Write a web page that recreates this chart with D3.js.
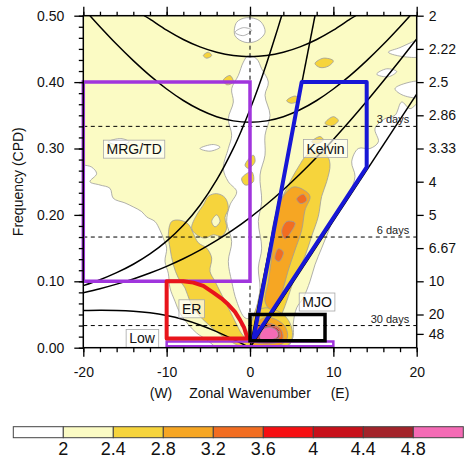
<!DOCTYPE html>
<html><head><meta charset="utf-8">
<script src="https://cdn.jsdelivr.net/npm/d3@7"></script>
<style>
body{margin:0;background:#fff;}
svg{display:block;font-family:"Liberation Sans",Arial,Helvetica,sans-serif;}
</style>
</head><body><svg id="c" width="467" height="463"></svg>
<script>
// ---------------- data ----------------
const xTicksMajor = [-20,-10,0,10,20];
const yTicksMajor = [0,0.1,0.2,0.3,0.4,0.5];
const periodFreqs = [0.5,0.45,0.4,0.35,0.3,0.25,0.2,0.15,0.1,0.05,0.0208];
const periodLabels = ["2","2.22","2.5","2.86","3.33","4","5","6.67","10","20","48"];
const periodLines = [3,6,30];
const periodLineLabels = ["3 days","6 days","30 days"];
const levels = [2,2.4,2.8,3.2,3.6,4,4.4,4.8];
const levelColors = ["#ffffff","#fbfbc4","#f6d43c","#f6a623","#f26d21","#f60f12","#c8101a","#a3232a","#f46bb5"];

// dispersion curves (wavenumber, frequency cpd)
const kelvinH8 = [[0,0],[20,0.382]];
const kelvinH90 = [[0,0],[7.8,0.5]];
const ig1H8 = [[-19.2,0.5],[-18,0.4834],[-16,0.4569],[-14,0.4323],[-12,0.4097],[-10,0.3896],[-8,0.3723],[-6,0.3583],[-4,0.3479],[-2,0.3416],[0,0.3395],[2,0.3416],[4,0.3479],[6,0.3583],[8,0.3723],[10,0.3896],[12,0.4097],[14,0.4323],[16,0.4569],[18,0.4834],[19.2,0.5]];
const ig2H8 = [[-12.7,0.5],[-12,0.4947],[-10,0.4782],[-8,0.4642],[-6,0.453],[-4,0.4449],[-2,0.4399],[0,0.4383],[2,0.4399],[4,0.4449],[6,0.453],[8,0.4642],[10,0.4782],[12,0.4947],[12.7,0.5]];
const mrgH8 = [[-20,0.0826],[-18,0.0888],[-16,0.0957],[-14,0.1035],[-12,0.1124],[-10,0.1225],[-8,0.1339],[-6,0.1469],[-4,0.1615],[-2,0.1778],[0,0.196],[2,0.216],[4,0.2379],[6,0.2616],[8,0.2869],[10,0.3137],[12,0.3418],[14,0.3712],[16,0.4016],[18,0.4329],[20,0.465]];
const mrgH90 = [[-20,0.0935],[-18,0.1024],[-16,0.113],[-14,0.1257],[-12,0.1412],[-10,0.1605],[-8,0.1844],[-6,0.2146],[-4,0.2526],[-2,0.3002],[-1,0.328],[0,0.3586],[1,0.3921],[2,0.4284],[3,0.4674],[3.8,0.5]];
const erH8 = [[-20,0.0561],[-18,0.0565],[-16,0.0562],[-14,0.055],[-12,0.0525],[-10,0.0484],[-8,0.0424],[-6,0.0343],[-4,0.0243],[-2,0.0126],[0,0]];

// filter boxes
const boxMRG = [[-20,0.1],[-20,0.4],[0,0.4],[0,0.1]];
const boxLow = [[-10,0.002],[-10,0.0095],[10,0.0095],[10,0.002]];
const boxER = [[-10,0.014],[-10,0.1],[-8,0.1],[-6.8,0.098],[-5.6,0.093],[-4.4,0.083],[-3.4,0.074],[-2.6,0.065],[-1.8,0.054],[-1.2,0.042],[-0.7,0.03],[-0.3,0.014]];
const boxKelvin = [[0.4,0.012],[6.2,0.4],[14,0.4],[14,0.272]];
const boxMJO = [[0,0.0104],[0,0.05],[9,0.05],[9,0.0104]];

const waveLabels = ["MRG/TD","Kelvin","ER","Low","MJO"];
const waveLabelK = [-13.9,9.06,-7.0,-12.96,8.04];
const waveLabelF = [0.299,0.300,0.0586,0.0139,0.0688];

// filled contour regions
const whiteLowLeft = [[-20,0.275],[-19,0.272],[-18.4,0.262],[-19.2,0.25],[-18,0.245],[-16.8,0.24],[-16.4,0.225],[-15,0.218],[-14,0.212],[-13,0.205],[-12.4,0.197],[-11.4,0.19],[-10.8,0.177],[-10.4,0.165],[-10,0.15],[-10.2,0.13],[-9.8,0.112],[-9.6,0.09],[-9,0.07],[-8.4,0.052],[-7.4,0.035],[-6.4,0.022],[-5,0.01],[-3.6,-0.01],[-20.5,-0.01],[-20.5,0.275]];
const whiteValley = [[-0.6,0.045],[-1.6,0.07],[-2.2,0.1],[-2.6,0.13],[-2.2,0.16],[-2.8,0.19],[-2.4,0.215],[-1.6,0.235],[-2.6,0.25],[-3.2,0.27],[-2.6,0.3],[-2.2,0.32],[-2.6,0.345],[-2.0,0.37],[-2.2,0.39],[-1.4,0.41],[-0.8,0.43],[-0.2,0.44],[0.8,0.435],[1.4,0.42],[2.2,0.4],[1.8,0.38],[2.4,0.35],[1.8,0.32],[1.8,0.29],[1.2,0.26],[1.4,0.22],[1.0,0.19],[1.4,0.15],[1.0,0.12],[1.2,0.09],[0.8,0.06],[0.2,0.045]];
const whiteTop = [[-1.6,0.49],[-0.4,0.497],[1.2,0.492],[1.8,0.475],[0.8,0.462],[-0.6,0.46],[-1.8,0.47]];
const whiteRight = [[4.6,-0.01],[5.2,0.018],[5.2,0.037],[5.6,0.06],[6.4,0.075],[7.2,0.1],[7.8,0.125],[8.6,0.15],[9.4,0.175],[10.2,0.2],[11.2,0.215],[12,0.235],[12.6,0.258],[12.2,0.28],[13,0.3],[14.4,0.3],[15.4,0.31],[15,0.33],[16.2,0.345],[17.4,0.35],[18.2,0.37],[19.2,0.36],[20.5,0.37],[20.5,-0.01]];
const whiteP1 = [[16.6,0.445],[18,0.452],[19.4,0.46],[20.5,0.465],[20.5,0.44],[18.6,0.438]];
const whiteP2 = [[17.4,0.39],[18.6,0.398],[20.5,0.4],[20.5,0.378],[18.4,0.38]];
const whiteP3 = [[15.2,0.412],[16.4,0.42],[17.6,0.416],[16.6,0.408]];
const whiteP4 = [[-17,0.31],[-15.5,0.315],[-14.5,0.31],[-15.6,0.305]];
const whiteP5 = [[-6,0.3],[-4.4,0.306],[-3.6,0.302],[-4.8,0.296]];
const whiteP6 = [[-1.8,0.475],[-0.8,0.482],[0.2,0.478],[-0.8,0.47]];

const goldERMain = [[-9.8,0.17],[-9.4,0.19],[-8.4,0.192],[-7.4,0.186],[-6.8,0.172],[-6.2,0.158],[-5.2,0.15],[-4.6,0.135],[-4.8,0.115],[-4.2,0.1],[-3.6,0.085],[-2.8,0.065],[-2,0.045],[-1.2,0.025],[-0.4,0.008],[-1.2,0.003],[-2.4,0.01],[-3.8,0.022],[-5,0.035],[-6.2,0.05],[-7.2,0.07],[-7.8,0.09],[-8.6,0.105],[-9.2,0.125],[-9.6,0.15]];
const goldERUpper = [[-7,0.18],[-6.4,0.2],[-5.6,0.215],[-5.0,0.228],[-4.0,0.232],[-3.0,0.226],[-2.6,0.21],[-3.0,0.196],[-2.8,0.18],[-3.4,0.168],[-4.4,0.17],[-5.4,0.165],[-6.4,0.17]];
const paleHole = [[-4.6,0.19],[-4,0.2],[-3.6,0.19],[-4.2,0.182]];
const goldKelvin = [[0.2,0.027],[0.9,0.067],[1.6,0.107],[2.3,0.147],[2.8,0.187],[3.6,0.218],[4.8,0.25],[5.8,0.272],[6.8,0.29],[8.0,0.296],[9.2,0.29],[9.6,0.276],[9.2,0.25],[8.6,0.228],[8.2,0.198],[7.4,0.168],[6.6,0.138],[5.4,0.107],[4.6,0.077],[3.8,0.05],[2.8,0.025]];
const goldSpots = [
  [[7.8,0.428],[8.8,0.436],[10,0.432],[9.4,0.424],[8.4,0.422]],
  [[4.4,0.372],[5.4,0.379],[6,0.374],[5,0.368]],
  [[9,0.338],[10,0.348],[10.6,0.342],[9.8,0.334]],
  [[7.4,0.31],[8.4,0.318],[8.8,0.313],[8.0,0.307]],
  [[-3.2,0.403],[-2.4,0.41],[-2,0.4],[-2.8,0.396]],
  [[-5.6,0.44],[-5,0.445],[-4.6,0.44],[-5.2,0.436]],
  [[-1.0,0.255],[0.2,0.265],[0.4,0.25],[-0.6,0.245]],
  [[-0.6,0.275],[0.4,0.29],[0.6,0.28],[-0.2,0.27]]
];
const goldMJO = [[-0.8,0.004],[-0.4,0.02],[0.2,0.04],[0.8,0.054],[1.8,0.06],[3,0.057],[4,0.05],[4.8,0.037],[5.1,0.018],[4.6,0.004],[3,0.0],[0,0]];
const orangeKelvin = [[1.8,0.07],[2.2,0.1],[2.5,0.127],[2.8,0.157],[3.2,0.197],[4.0,0.228],[5.2,0.242],[6.4,0.238],[7.2,0.228],[6.6,0.207],[6.2,0.177],[5.4,0.147],[4.6,0.117],[4.0,0.09],[3.2,0.062],[2.4,0.058]];
const orangeMJO = [[0,0.006],[0.4,0.025],[1,0.04],[2,0.046],[3.2,0.042],[4.2,0.032],[4.5,0.016],[3.8,0.005],[2,0.003]];
const darkOrangeSpots = [
  [[3.8,0.175],[4.4,0.19],[5.4,0.188],[4.8,0.172],[4.2,0.164]],
  [[3.0,0.134],[3.4,0.149],[4.0,0.144],[3.5,0.13]],
  [[5.6,0.224],[6.4,0.231],[6.8,0.222],[6.1,0.217]],
  [[0.4,0.01],[0.8,0.03],[1.6,0.037],[2.8,0.035],[3.8,0.026],[3.9,0.012],[3,0.007],[1.6,0.006]]
];
const redMJO = [[0.8,0.012],[1.2,0.03],[2.2,0.033],[3.4,0.028],[3.6,0.016],[2.6,0.01]];
const darkRedMJO = [[1.0,0.013],[1.4,0.029],[2.4,0.031],[3.4,0.025],[3.5,0.016],[2.5,0.011]];
const pinkMJO = [[1.2,0.014],[1.6,0.028],[2.6,0.03],[3.3,0.024],[3.3,0.016],[2.4,0.012]];

const contourLayers = [
  {lvl:0, polys:[whiteLowLeft, whiteValley, whiteTop, whiteRight, whiteP1, whiteP2, whiteP3, whiteP4, whiteP5, whiteP6]},
  {lvl:2, polys:[goldERMain, goldERUpper, goldKelvin, goldMJO].concat(goldSpots)},
  {lvl:1, polys:[paleHole]},
  {lvl:3, polys:[orangeKelvin, orangeMJO]},
  {lvl:4, polys:darkOrangeSpots},
  {lvl:5, polys:[redMJO]},
  {lvl:7, polys:[darkRedMJO]},
  {lvl:8, polys:[pinkMJO]}
];

// ---------------- drawing ----------------
const svg = d3.select("#c");
const L = 83.3, R = 416.7, T = 15.7, B = 347.7;
const x = d3.scaleLinear().domain([-20,20]).range([L,R]);
const y = d3.scaleLinear().domain([0,0.5]).range([B,T]);

svg.append("defs").append("clipPath").attr("id","clip")
  .append("rect").attr("x",L).attr("y",T).attr("width",R-L).attr("height",B-T);

const plot = svg.append("g").attr("clip-path","url(#clip)");
plot.append("rect").attr("x",L).attr("y",T).attr("width",R-L).attr("height",B-T)
  .attr("fill",levelColors[1]);

const polyLine = d3.line().x(d=>x(d[0])).y(d=>y(d[1])).curve(d3.curveCatmullRomClosed.alpha(0.5));
contourLayers.forEach(layer=>{
  plot.append("g").selectAll("path").data(layer.polys).join("path")
    .attr("d",polyLine)
    .attr("fill",levelColors[layer.lvl])
    .attr("stroke","#9c9c9c").attr("stroke-width",0.8);
});

// dashed reference lines
plot.selectAll("line.per").data(periodLines).join("line")
  .attr("x1",L).attr("x2",R).attr("y1",d=>y(1/d)).attr("y2",d=>y(1/d))
  .attr("stroke","#000").attr("stroke-width",1).attr("stroke-dasharray","4,3.5");
plot.append("line").attr("x1",x(0)).attr("x2",x(0)).attr("y1",T).attr("y2",B)
  .attr("stroke","#000").attr("stroke-width",1).attr("stroke-dasharray","4,3.5");

// dispersion curves
const curveLine = d3.line().x(d=>x(d[0])).y(d=>y(d[1])).curve(d3.curveCatmullRom.alpha(0.5));
[kelvinH8,kelvinH90,ig1H8,ig2H8,mrgH8,mrgH90,erH8].forEach(c=>{
  plot.append("path").attr("d",curveLine(c)).attr("fill","none")
    .attr("stroke","#000").attr("stroke-width",1.5);
});

// period text
svg.selectAll("text.per").data(periodLines).join("text")
  .attr("x",x(19.1)).attr("y",d=>y(1/d)-3).attr("text-anchor","end")
  .attr("font-size",11).attr("fill","#222").text((d,i)=>periodLineLabels[i]);

// boxes
const closedLine = d3.line().x(d=>x(d[0])).y(d=>y(d[1])).curve(d3.curveLinearClosed);
svg.append("path").attr("d",closedLine(boxMRG)).attr("fill","none").attr("stroke","#a035dd").attr("stroke-width",3.5);
svg.append("path").attr("d",closedLine(boxLow)).attr("fill","none").attr("stroke","#a035dd").attr("stroke-width",2.5);
svg.append("path").attr("d",closedLine(boxER)).attr("fill","none").attr("stroke","#e8141b").attr("stroke-width",4).attr("stroke-linejoin","round");
svg.append("path").attr("d",closedLine(boxKelvin)).attr("fill","none").attr("stroke","#1717d6").attr("stroke-width",4).attr("stroke-linejoin","round");
svg.append("path").attr("d",closedLine(boxMJO)).attr("fill","none").attr("stroke","#000").attr("stroke-width",3.5);

// wave labels
waveLabels.forEach((t,i)=>{
  const g = svg.append("g");
  const tx = g.append("text").attr("x",x(waveLabelK[i])).attr("y",y(waveLabelF[i]))
    .attr("text-anchor","middle").attr("dominant-baseline","central")
    .attr("font-size",14).attr("fill","#111").text(t);
  const bb = tx.node().getBBox();
  g.insert("rect","text").attr("x",bb.x-3).attr("y",bb.y-1).attr("width",bb.width+6).attr("height",bb.height+2)
    .attr("fill","rgba(255,255,255,0.65)").attr("stroke","#a8a8a8").attr("stroke-width",0.8);
});

// axes
const axG = svg.append("g").attr("font-size",14);
const bottomMajor = d3.axisBottom(x).tickValues(xTicksMajor).tickSize(9).tickPadding(10).tickFormat(d=>String(d));
const bottomMinor = d3.axisBottom(x).tickValues(d3.range(-20,21,2)).tickSize(4.5).tickFormat("");
const topMajor = d3.axisTop(x).tickValues(xTicksMajor).tickSize(9).tickFormat("");
const topMinor = d3.axisTop(x).tickValues(d3.range(-20,21,2)).tickSize(4).tickFormat("");
const leftMajor = d3.axisLeft(y).tickValues(yTicksMajor).tickSize(9).tickPadding(10).tickFormat(d3.format(".2f"));
const leftMinor = d3.axisLeft(y).tickValues(d3.range(0,31).map(i=>i/60)).tickSize(4.5).tickFormat("");
const rightAx = d3.axisRight(y).tickValues(periodFreqs).tickSize(7).tickPadding(5).tickFormat((d,i)=>periodLabels[i]);

function styleAxis(g){
  g.select(".domain").remove();
  g.selectAll("line").attr("stroke","#000").attr("stroke-width",1.3);
  g.selectAll("text").attr("font-size",14).attr("fill","#111").attr("font-family","Liberation Sans, Arial, sans-serif");
}
axG.append("g").attr("transform",`translate(0,${B})`).call(bottomMinor).call(styleAxis);
axG.append("g").attr("transform",`translate(0,${B})`).call(bottomMajor).call(styleAxis);
axG.append("g").attr("transform",`translate(0,${T})`).call(topMinor).call(styleAxis);
axG.append("g").attr("transform",`translate(0,${T})`).call(topMajor).call(styleAxis);
axG.append("g").attr("transform",`translate(${L},0)`).call(leftMinor).call(styleAxis);
axG.append("g").attr("transform",`translate(${L},0)`).call(leftMajor).call(styleAxis);
axG.append("g").attr("transform",`translate(${R},0)`).call(rightAx).call(styleAxis);

svg.append("rect").attr("x",L).attr("y",T).attr("width",R-L).attr("height",B-T)
  .attr("fill","none").attr("stroke","#000").attr("stroke-width",1.5);

// axis titles
svg.append("text").attr("transform",`translate(23,${(T+B)/2}) rotate(-90)`)
  .attr("text-anchor","middle").attr("font-size",14).attr("fill","#111").text("Frequency (CPD)");
const xt = svg.append("g").attr("font-size",14).attr("fill","#111");
xt.append("text").attr("x",161).attr("y",398).attr("text-anchor","middle").text("(W)");
xt.append("text").attr("x",250).attr("y",398).attr("text-anchor","middle").text("Zonal Wavenumber");
xt.append("text").attr("x",340).attr("y",398).attr("text-anchor","middle").text("(E)");

// colorbar
const cb = d3.scaleBand().domain(d3.range(levelColors.length)).range([13.3,463.3]).padding(0);
const cbG = svg.append("g");
cbG.selectAll("rect").data(levelColors).join("rect")
  .attr("x",(d,i)=>cb(i)).attr("y",426.7).attr("width",cb.bandwidth()).attr("height",11)
  .attr("fill",d=>d).attr("stroke","#444").attr("stroke-width",1);
cbG.selectAll("text").data(levels).join("text")
  .attr("x",(d,i)=>cb(i+1)).attr("y",455).attr("text-anchor","middle")
  .attr("font-size",18).attr("fill","#111").text(d=>d);
</script></body></html>
